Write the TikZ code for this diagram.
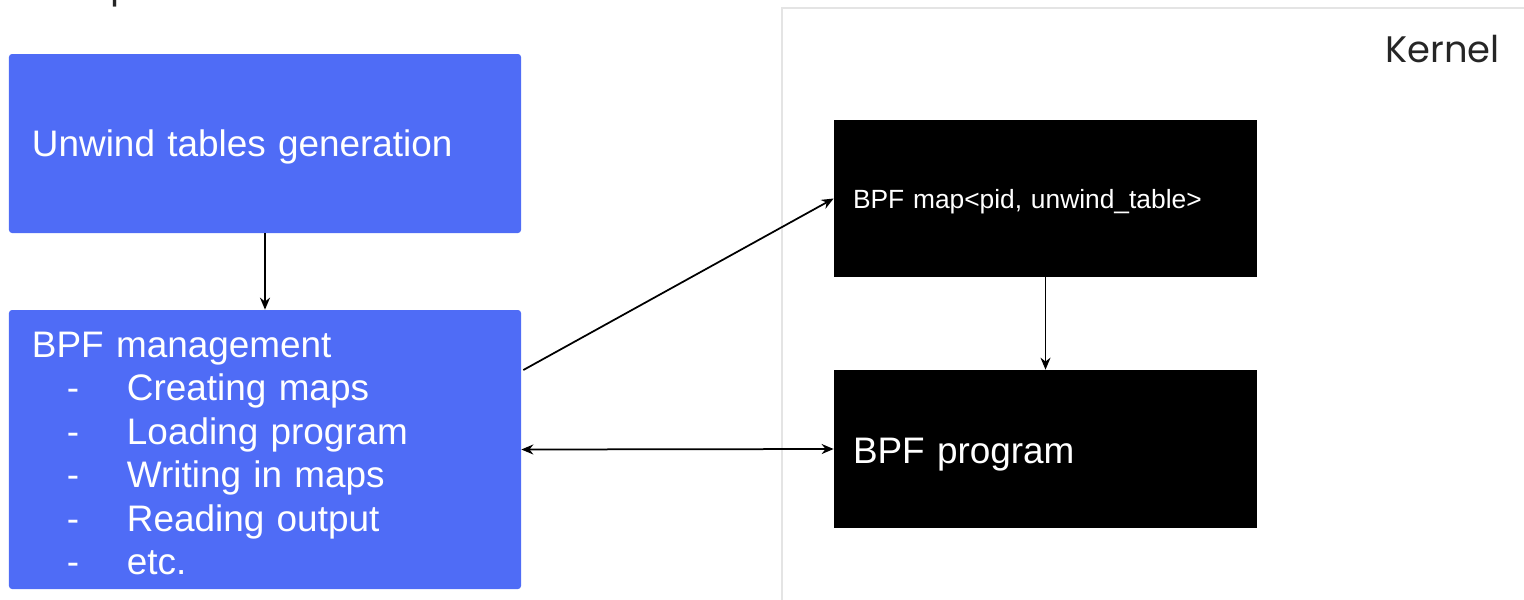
\documentclass[tikz,border=0pt]{standalone}
\usepackage{fontspec}
\setmainfont{Liberation Sans}
\newfontfamily\headfont{Poppins}
\usetikzlibrary{arrows.meta}
\definecolor{userblue}{RGB}{79,108,246}
\definecolor{framegray}{RGB}{228,228,228}
% one dashed entry of the management list
\newcommand\mgmtitem[1]{\\\hspace*{7mm}\makebox[12mm][l]{-}#1}

\begin{document}
\begin{tikzpicture}[x=0.2mm,y=-0.2mm,
		>={Stealth[length=2.4mm,width=2mm]},
		userbox/.style={fill=userblue,text=white,rounded corners=0.6mm,minimum width=102.4mm,inner xsep=4.6mm,text width=93.2mm,align=left,font=\fontsize{21}{24.7}\selectfont},
		kernbox/.style={fill=black,text=white,minimum width=84.6mm,inner xsep=3.8mm,text width=77mm,align=left,text depth=0pt},
		headline/.style={font=\headfont\fontsize{21}{24}\selectfont,text=black!85,inner sep=0pt},
		link/.style={line width=0.35mm,->}]
			\useasboundingbox (0,0) rectangle (1524,599);
			% kernel side frame
			\draw[framegray,line width=0.3mm] (1560,8) -| (782,640);
			\node[headline,anchor=base east] (kern) at (1500,62) {Kernel};
			\node[headline,anchor=base west] (user) at (10,-3) {Userspace};
			% userspace boxes
			\node[userbox,minimum height=35.8mm,text height=15pt,text depth=0pt] (gen) at (265,143.5) {Unwind tables generation};
			\node[userbox,minimum height=55.8mm,text height=19pt] (mgmt) at (265,449.5) {BPF management\mgmtitem{Creating maps}\mgmtitem{Loading program}\mgmtitem{Writing in maps}\mgmtitem{Reading output}\mgmtitem{etc.}};
			% kernel boxes
			\node[kernbox,minimum height=31.4mm,text height=10.8pt,font=\fontsize{15}{18}\selectfont] (map) at (1045.5,198.5) {BPF map<pid, unwind\_table>};
			\node[kernbox,minimum height=31.6mm,text height=16pt,font=\fontsize{21}{24}\selectfont] (prog) at (1045.5,449) {BPF program};
			\draw[link] (gen.south) -- (mgmt.north);
			\draw[link] ([xshift=0.4mm,yshift=15.9mm]mgmt.east) -- (map.west);
			\draw[link,<->] (mgmt.east) -- (prog.west);
			\draw[link] (map.south) -- (prog.north);
		\end{tikzpicture}
\end{document}
